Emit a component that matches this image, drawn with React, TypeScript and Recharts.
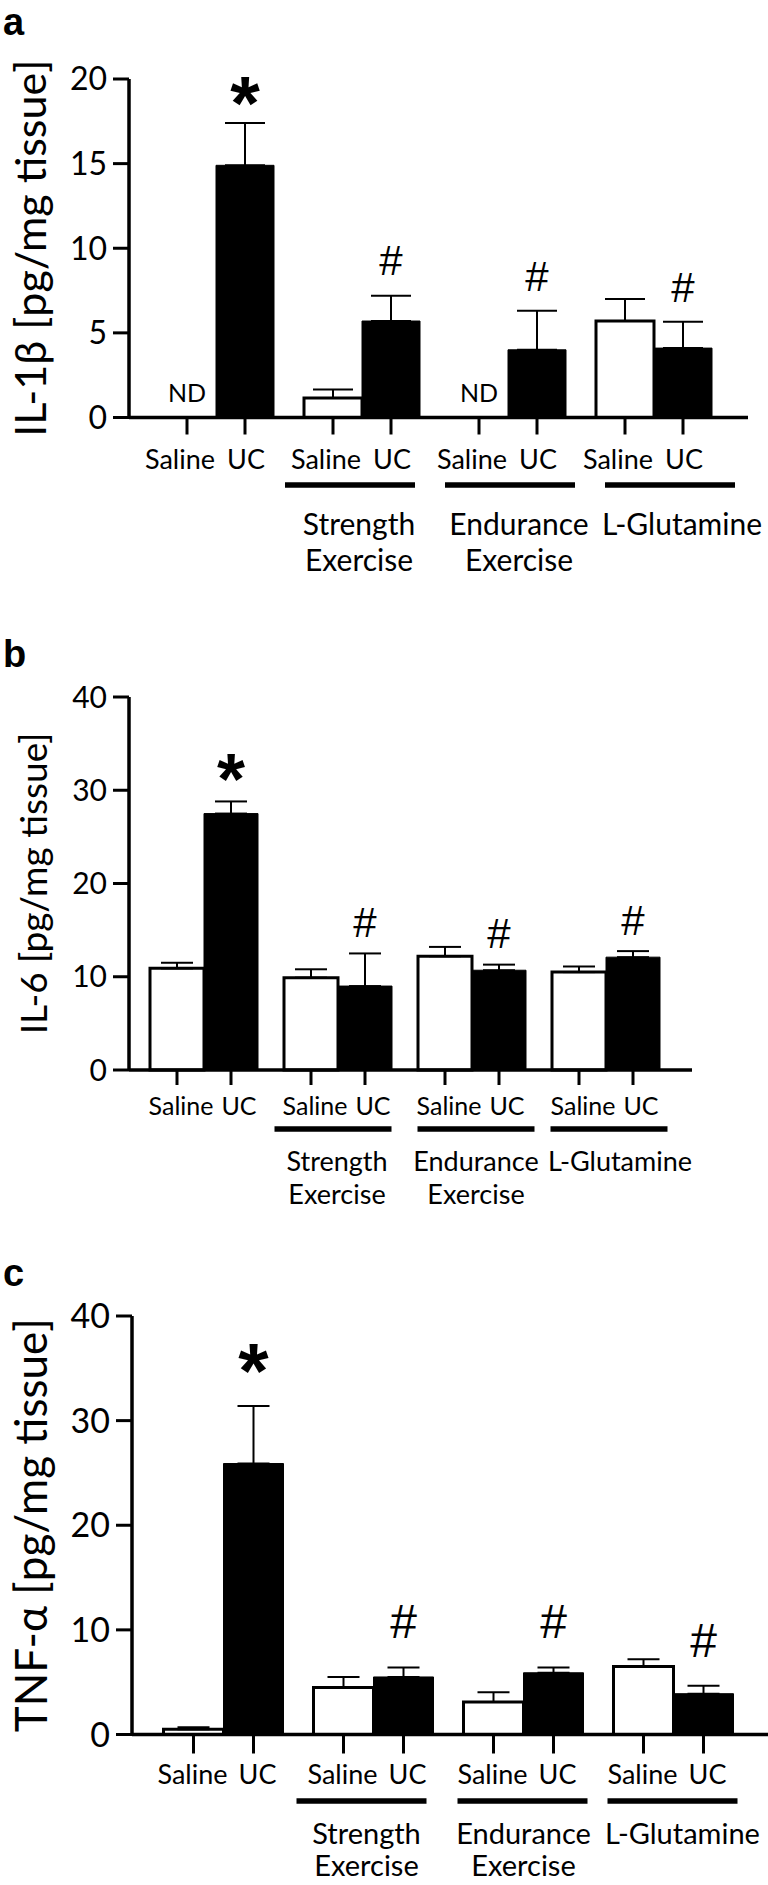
import React from 'react'
import { BarChart, Bar, XAxis, YAxis, ErrorBar, LabelList } from 'recharts'

const FONT = 'Lato, "Noto Sans", sans-serif'
const MARK_FONT = '"Liberation Sans", Arial, sans-serif'

// x categories
const groups = ['Control', 'Strength Exercise', 'Endurance Exercise', 'L-Glutamine']
const groupLines = [[], ['Strength', 'Exercise'], ['Endurance', 'Exercise'], ['L-Glutamine']]
const barNames = ['Saline', 'UC']

// a: IL-1β
const il1bSaline = [0, 1.15, 0, 5.7]
const il1bSalineErr = [0, 0.5, 0, 1.3]
const il1bUC = [14.9, 5.7, 4.0, 4.1]
const il1bUCErr = [2.5, 1.5, 2.3, 1.55]
const il1bND = ['ND', '', 'ND', '']
const il1bMarks = ['*', '#', '#', '#']
const il1bTicks = [0, 5, 10, 15, 20]

// b: IL-6
const il6Saline = [10.9, 9.9, 12.2, 10.5]
const il6SalineErr = [0.6, 0.9, 1.0, 0.6]
const il6UC = [27.5, 9.0, 10.7, 12.1]
const il6UCErr = [1.3, 3.5, 0.6, 0.65]
const il6Marks = ['*', '#', '#', '#']
const il6Ticks = [0, 10, 20, 30, 40]

// c: TNF-α
const tnfSaline = [0.5, 4.5, 3.1, 6.5]
const tnfSalineErr = [0.2, 1.0, 0.95, 0.7]
const tnfUC = [25.9, 5.5, 5.9, 3.9]
const tnfUCErr = [5.5, 0.9, 0.5, 0.75]
const tnfMarks = ['*', '#', '#', '#']
const tnfTicks = [0, 10, 20, 30, 40]

const panels = [
  {
    letter: 'a', letterTop: 0, top: 0, height: 620,
    yLabel: 'IL-1β [pg/mg tissue]', ticks: il1bTicks,
    saline: il1bSaline, salineErr: il1bSalineErr, uc: il1bUC, ucErr: il1bUCErr, nd: il1bND, marks: il1bMarks,
    st: {
      marginTop: 79, xAxisHeight: 190, marginBottom: 12.5, yAxisWidth: 129, marginRight: 20,
      padL: 14, padR: 21, barSize: 58, capHalf: 20, yLabelX: 29, yLabelFont: 43, tickFont: 32,
      tickLen: 17, subY: 40.5, subFont: 27, subDx: [-7, 1], lineY: 67.5, lineW: 130,
      grpY: 105.5, grpLH: 36, grpFont: 30, lineDx: [0, -12, 2, 16], labelDx: [0, -3, 11, 28],
      starFont: 76, hashFont: 42, starGap: 37, hashGap: 35, ndFont: 25, ndGap: 26,
    },
  },
  {
    letter: 'b', letterTop: 632, top: 620, height: 640,
    yLabel: 'IL-6 [pg/mg tissue]', ticks: il6Ticks,
    saline: il6Saline, salineErr: il6SalineErr, uc: il6UC, ucErr: il6UCErr, nd: null, marks: il6Marks,
    st: {
      marginTop: 77, xAxisHeight: 178, marginBottom: 12, yAxisWidth: 129, marginRight: 76,
      padL: 8, padR: 19, barSize: 54, capHalf: 16, yLabelX: 32, yLabelFont: 37, tickFont: 30,
      tickLen: 15, subY: 35, subFont: 25, subDx: [4, 8], lineY: 59, lineW: 117,
      grpY: 90, grpLH: 33, grpFont: 27, lineDx: [0, -5, 4, 3], labelDx: [0, -1, 4, 14],
      starFont: 72, hashFont: 42, starGap: 38, hashGap: 31, ndFont: 25, ndGap: 26,
    },
  },
  {
    letter: 'c', letterTop: 1251, top: 1260, height: 625,
    yLabel: 'TNF-α [pg/mg tissue]', ticks: tnfTicks,
    saline: tnfSaline, salineErr: tnfSalineErr, uc: tnfUC, ucErr: tnfUCErr, nd: null, marks: tnfMarks,
    st: {
      marginTop: 56, xAxisHeight: 140, marginBottom: 10.5, yAxisWidth: 132, marginRight: 0,
      padL: 16.5, padR: 19.5, barSize: 60, capHalf: 16, yLabelX: 30, yLabelFont: 44, tickFont: 34,
      tickLen: 19, subY: 39, subFont: 27, subDx: [-1, 4], lineY: 66.5, lineW: 130,
      grpY: 98, grpLH: 32, grpFont: 29, lineDx: [0, -12, -1, -1], labelDx: [0, -7, 0, 9],
      starFont: 78, hashFont: 48, starGap: 52, hashGap: 46, ndFont: 25, ndGap: 26,
    },
  },
]

const GroupTick = (props: any) => {
  const { x, y, payload, st } = props
  const i = groups.indexOf(payload.value)
  const half = st.barSize / 2
  const lines = groupLines[i] || []
  const lx = x + (st.lineDx[i] || 0)
  const tx = x + (st.labelDx[i] || 0)
  return (
    <g>
      {barNames.map((name, k) => {
        const cx = x + (k === 0 ? -half : half)
        return (
          <g key={name}>
            <line x1={cx} x2={cx} y1={y} y2={y + st.tickLen} stroke="#000" strokeWidth={3} />
            <text x={cx + st.subDx[k]} y={y + st.subY} textAnchor="middle" dominantBaseline="central"
              fontSize={st.subFont} fontFamily={FONT} fill="#000">{name}</text>
          </g>
        )
      })}
      {lines.length > 0 && (
        <line x1={lx - st.lineW / 2} x2={lx + st.lineW / 2} y1={y + st.lineY} y2={y + st.lineY}
          stroke="#000" strokeWidth={5.5} />
      )}
      {lines.map((l, k) => (
        <text key={l} x={tx} y={y + st.grpY + k * st.grpLH} textAnchor="middle" dominantBaseline="central"
          fontSize={st.grpFont} fontFamily={FONT} fill="#000">{l}</text>
      ))}
    </g>
  )
}

const Panel = ({ p }: { p: any }) => {
  const st = p.st
  const yMax = p.ticks[p.ticks.length - 1]
  const data = groups.map((g, i) => ({
    group: g,
    saline: p.saline[i],
    salineErr: [0, p.salineErr[i]],
    uc: p.uc[i],
    ucErr: [0, p.ucErr[i]],
    nd: p.nd ? p.nd[i] : '',
    mark: p.marks[i],
  }))

  const renderYLabel = (lp: any) => {
    const vb = lp.viewBox || {}
    const cy = (vb.y ?? st.marginTop) + (vb.height ?? 0) / 2
    return (
      <text transform={`translate(${st.yLabelX}, ${cy}) rotate(-90)`} textAnchor="middle"
        dominantBaseline="central" fontSize={st.yLabelFont} fontFamily={FONT} fill="#000">
        {p.yLabel}
      </text>
    )
  }

  const renderMark = (lp: any) => {
    const vb = lp.viewBox || lp
    const i = lp.index
    const v = p.uc[i]
    if (!lp.value || !v) return null
    const { x, y, width, height } = vb
    const errTop = y - (p.ucErr[i] * height) / v
    const star = lp.value === '*'
    const fs = star ? st.starFont : st.hashFont
    const cy = errTop - (star ? st.starGap : st.hashGap)
    const baseline = cy + (star ? 0.57 : 0.35) * fs
    return (
      <text x={x + width / 2} y={baseline} textAnchor="middle" fontSize={fs}
        fontWeight={star ? 'bold' : 'normal'} fontFamily={MARK_FONT} fill="#000">
        {lp.value}
      </text>
    )
  }

  // ND sits over the (empty) saline bar, just left of the UC bar
  const renderND = (lp: any) => {
    const vb = lp.viewBox || lp
    if (!lp.value) return null
    const { x, y, width, height } = vb
    return (
      <text x={x - width / 2} y={y + height - st.ndGap} textAnchor="middle" dominantBaseline="central"
        fontSize={st.ndFont} fontFamily={FONT} fill="#000">{lp.value}</text>
    )
  }

  return (
    <div style={{ position: 'absolute', left: 0, top: p.top, width: 768, height: p.height }}>
      <div style={{
        position: 'absolute', left: 3, top: p.letterTop - p.top, fontSize: 38, lineHeight: '44px',
        fontWeight: 'bold', fontFamily: MARK_FONT, color: '#000',
      }}>{p.letter}</div>
      <BarChart width={768} height={p.height} data={data} barSize={st.barSize} barGap={0}
        margin={{ top: st.marginTop, right: st.marginRight, bottom: st.marginBottom, left: 0 }}>
        <XAxis dataKey="group" interval={0} height={st.xAxisHeight}
          padding={{ left: st.padL, right: st.padR }}
          axisLine={{ stroke: '#000', strokeWidth: 3.5 }} tickLine={false} tickSize={0} tickMargin={0}
          tick={(tp: any) => <GroupTick {...tp} st={st} />} />
        <YAxis type="number" domain={[0, yMax]} ticks={p.ticks} width={st.yAxisWidth} interval={0}
          axisLine={{ stroke: '#000', strokeWidth: 3.5 }}
          tickLine={{ stroke: '#000', strokeWidth: 3 }} tickSize={16} tickMargin={6}
          tick={{ fill: '#000', fontSize: st.tickFont, fontFamily: FONT }}
          label={renderYLabel} />
        <Bar dataKey="saline" fill="#fff" stroke="#000" strokeWidth={3} isAnimationActive={false}>
          <ErrorBar dataKey="salineErr" width={st.capHalf} stroke="#000" strokeWidth={2} direction="y" />
        </Bar>
        <Bar dataKey="uc" fill="#000" stroke="#000" strokeWidth={1} isAnimationActive={false}>
          <ErrorBar dataKey="ucErr" width={st.capHalf} stroke="#000" strokeWidth={2} direction="y" />
          <LabelList dataKey="mark" content={renderMark} />
          <LabelList dataKey="nd" content={renderND} />
        </Bar>
      </BarChart>
    </div>
  )
}

export default function App() {
  return (
    <div style={{ position: 'absolute', left: 0, top: 0, width: 768, height: 1885, background: '#fff' }}>
      {panels.map((p) => <Panel key={p.letter} p={p} />)}
    </div>
  )
}
